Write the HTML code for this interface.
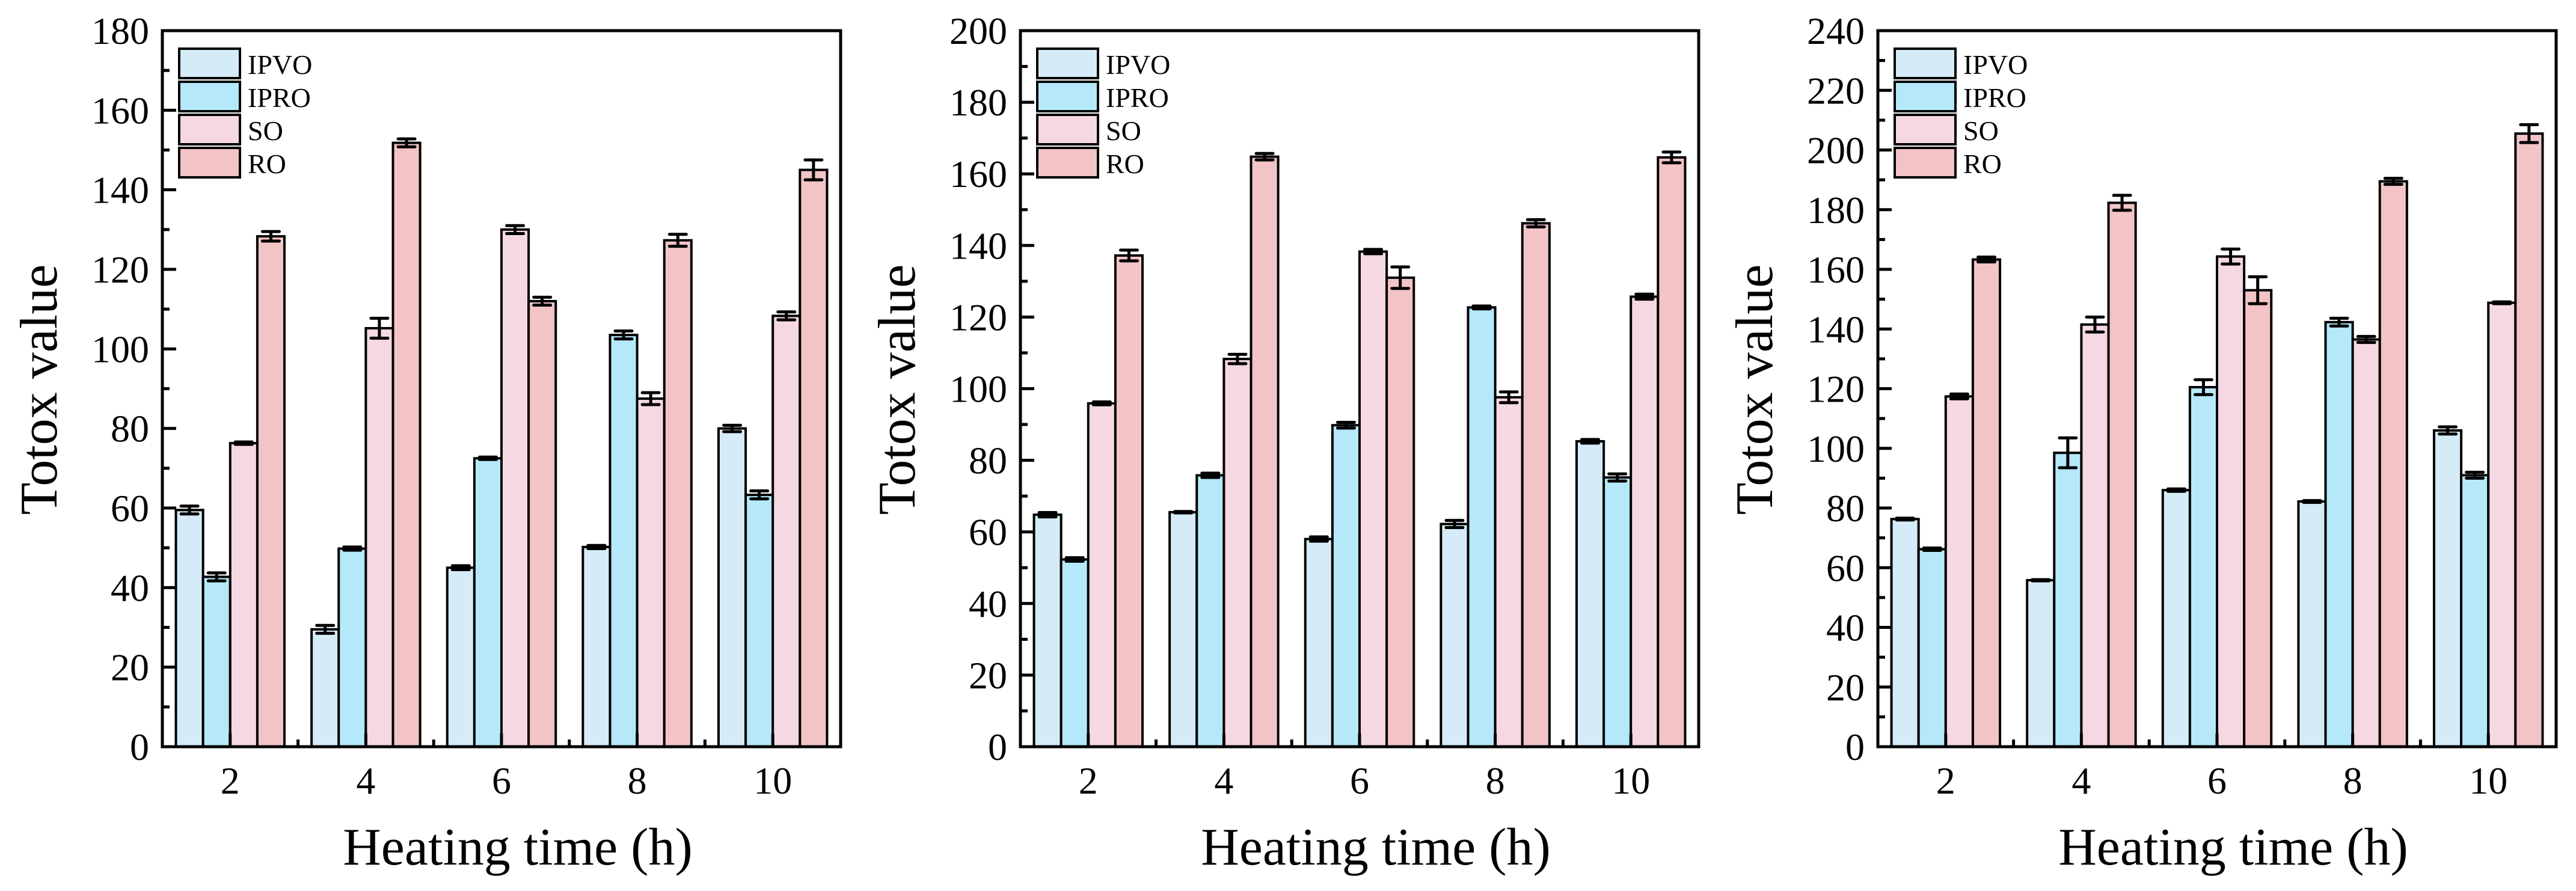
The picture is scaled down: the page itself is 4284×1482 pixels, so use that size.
<!DOCTYPE html>
<html><head><meta charset="utf-8"><style>
html,body{margin:0;padding:0;background:#fff;}
svg, svg text{font-family:"Liberation Serif","DejaVu Serif",serif;}
</style></head><body>
<svg id="chart" width="4284" height="1477" viewBox="0 0 4284 1477" xmlns="http://www.w3.org/2000/svg" font-family="Liberation Serif, serif"></svg>
<script>
const categories = ["2","4","6","8","10"];
const seriesNames = ["IPVO","IPRO","SO","RO"];
const seriesColors = ["#d6ebf8","#b5e9fa","#f5d8e2","#f3c4c6"];
// Panel A (0-180)
const aIPVO = [59.5,29.5,45,50.2,80];
const aIPRO = [42.7,49.8,72.5,103.5,63.3];
const aSO = [76.3,105.2,130,87.5,108.3];
const aRO = [128.3,151.8,112,127.3,145];
const aErrIPVO = [1,1,0.5,0.4,0.8];
const aErrIPRO = [1,0.4,0.3,1,1];
const aErrSO = [0.3,2.5,1,1.5,1];
const aErrRO = [1.2,1,1,1.5,2.5];
const aTicks = [0,20,40,60,80,100,120,140,160,180];
// Panel B (0-200)
const bIPVO = [64.8,65.5,58,62.2,85.3];
const bIPRO = [52.3,75.8,89.8,122.7,75.2];
const bSO = [95.9,108.3,138.3,97.6,125.7];
const bRO = [137.2,164.8,131,146.2,164.6];
const bErrIPVO = [0.6,0.2,0.6,1,0.5];
const bErrIPRO = [0.5,0.6,0.8,0.4,1];
const bErrSO = [0.4,1.3,0.6,1.5,0.7];
const bErrRO = [1.5,0.9,3,1,1.5];
const bTicks = [0,20,40,60,80,100,120,140,160,180,200];
// Panel C (0-240)
const cIPVO = [76.3,55.8,86,82.2,106];
const cIPRO = [66.2,98.5,120.5,142.3,91];
const cSO = [117.4,141.5,164.3,136.5,148.8];
const cRO = [163.3,182.3,153,189.5,205.5];
const cErrIPVO = [0.3,0.2,0.4,0.3,1.2];
const cErrIPRO = [0.4,5,2.5,1.3,1];
const cErrSO = [0.8,2.5,2.5,1,0.3];
const cErrRO = [0.8,2.5,4.5,1,3];
const cTicks = [0,20,40,60,80,100,120,140,160,180,200,220,240];

const NS="http://www.w3.org/2000/svg";
const svg=document.getElementById('chart');
const FF='"Liberation Serif", serif';
function mk(tag,attrs,parent){const e=document.createElementNS(NS,tag);for(const k in attrs)e.setAttribute(k,attrs[k]);if(tag==='text')e.style.fontFamily=FF;(parent||svg).appendChild(e);return e;}

function panel(id,left,vals,errs,ticks){
  const right=left+1128, top=51, bottom=1242;
  const ymax=ticks[ticks.length-1];
  const y=v=>bottom-(v/ymax)*(bottom-top);
  const band=(right-left)/categories.length;
  const bw=band*0.8/4;
  const xc=i=>left+band*(i+0.5);
  const g=mk('g',{});
  
  
  for(let s=0;s<4;s++){
    for(let i=0;i<categories.length;i++){
      const x0=xc(i)-2*bw+s*bw;
      const r=mk('rect',{x:x0,y:y(vals[s][i]),width:bw,height:bottom-y(vals[s][i]),fill:seriesColors[s],stroke:'#000','stroke-width':4},g);
      
      
      const cx=x0+bw/2, e=errs[s][i];
      const eb=mk('path',{d:`M${cx-14},${y(vals[s][i]+e)}H${cx+14}M${cx},${y(vals[s][i]+e)}V${y(vals[s][i]-e)}M${cx-14},${y(vals[s][i]-e)}H${cx+14}`,stroke:'#000','stroke-width':5,fill:'none','stroke-linecap':'round'},g);
      
      
    }
  }
  for(let k=0;k<ticks.length;k++){
    const t=ticks[k];
    mk('line',{x1:left,x2:left+23,y1:y(t),y2:y(t),stroke:'#000','stroke-width':5},g);
    if(k<ticks.length-1){const m=(t+ticks[k+1])/2;mk('line',{x1:left,x2:left+12,y1:y(m),y2:y(m),stroke:'#000','stroke-width':5},g);}
    const tl=mk('text',{x:left-22,y:y(t)+22,'font-size':64,'text-anchor':'end'},g);
    tl.textContent=t;
    
    
  }
  for(let i=0;i<categories.length;i++){
    mk('line',{x1:xc(i),x2:xc(i),y1:bottom,y2:bottom-22,stroke:'#000','stroke-width':5},g);
    if(i>0)mk('line',{x1:left+band*i,x2:left+band*i,y1:bottom,y2:bottom-12,stroke:'#000','stroke-width':5},g);
    const xl=mk('text',{x:xc(i),y:1320,'font-size':64,'text-anchor':'middle'},g);
    xl.textContent=categories[i];
    
    
  }
  const fr=mk('rect',{x:left,y:top,width:right-left,height:bottom-top,fill:'none',stroke:'#000','stroke-width':5},g);
  
  
  const xt=mk('text',{x:(left+right)/2+27,y:1438,'font-size':88,'text-anchor':'middle'},g);
  xt.textContent='Heating time (h)';
  
  
  const yx=left-176;
  const yt=mk('text',{x:yx,y:648,'font-size':88,'text-anchor':'middle',transform:`rotate(-90 ${yx} 648)`},g);
  yt.textContent='Totox value';
  
  
  for(let s=0;s<4;s++){
    const ly=81+s*55;
    const lr=mk('rect',{x:left+28,y:ly,width:101,height:49,fill:seriesColors[s],stroke:'#000','stroke-width':4},g);
    
    
    const lt=mk('text',{x:left+142,y:ly+42,'font-size':46},g);
    lt.textContent=seriesNames[s];
    
    
  }
}
panel('panel-a',270,[aIPVO,aIPRO,aSO,aRO],[aErrIPVO,aErrIPRO,aErrSO,aErrRO],aTicks);
panel('panel-b',1697,[bIPVO,bIPRO,bSO,bRO],[bErrIPVO,bErrIPRO,bErrSO,bErrRO],bTicks);
panel('panel-c',3123,[cIPVO,cIPRO,cSO,cRO],[cErrIPVO,cErrIPRO,cErrSO,cErrRO],cTicks);
</script>
</body></html>
